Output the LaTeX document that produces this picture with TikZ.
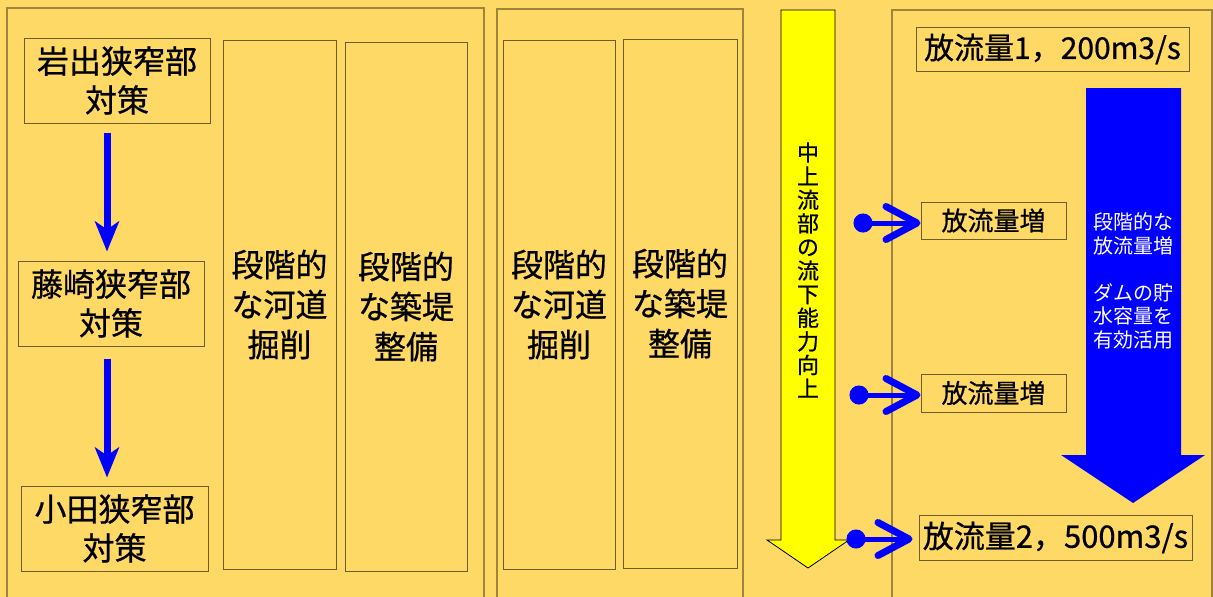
\documentclass[tikz,border=0pt]{standalone}
\usepackage{fontspec}
\newfontfamily\jp[UprightFeatures={FakeBold=0.7}]{Noto Sans CJK JP}
\newfontfamily\jpw{Noto Sans CJK JP}
\usetikzlibrary{arrows.meta}
\definecolor{bg}{RGB}{255,217,102}
\definecolor{panelc}{RGB}{160,132,60}
\definecolor{boxc}{RGB}{110,92,45}
\definecolor{yel}{RGB}{255,255,0}
\begin{document}
\begin{tikzpicture}[x=1pt,y=-1pt,
  panel/.style={draw=panelc, line width=1.5pt},
  box/.style={draw=boxc, line width=1pt, inner sep=0pt, align=center, font=\jp\fontsize{32}{39}\selectfont},
  tall/.style={box, font=\jp\fontsize{32}{40}\selectfont},
  smallbox/.style={box, font=\jp\fontsize{26}{28}\selectfont},
  larr/.style={draw=blue, line width=7pt, -{Stealth[length=30pt,width=24pt,inset=8pt]}},
  conn/.style={draw=blue, line width=5pt, {Circle[length=19pt]}-{Straight Barb[length=31pt,width=33pt,line width=7pt,round]}}
]
\useasboundingbox (0,0) rectangle (1213,597);
\fill[bg] (0,0) rectangle (1213,597);

% panels
\draw[panel] (7,597) -- (7,8) -- (484,8) -- (484,597);
\draw[panel] (497,597) -- (497,9) -- (743,9) -- (743,597);
\draw[panel] (892,597) -- (892,10) -- (1212,10) -- (1212,597);

% left column boxes
\node[box, minimum width=186pt, minimum height=85pt] (iwade) at (117,80.5) {岩出狭窄部\\対策};
\node[box, minimum width=186pt, minimum height=85pt] (fuji) at (111,303.5) {藤崎狭窄部\\対策};
\node[box, minimum width=187pt, minimum height=85pt] (oda) at (114.5,528.5) {小田狭窄部\\対策};

\coordinate (ax) at (107,0);
\draw[larr, shorten <=9pt, shorten >=9pt] (iwade.south -| ax) -- (fuji.north -| ax);
\draw[larr, shorten <=12pt, shorten >=8pt] (fuji.south -| ax) -- (oda.north -| ax);

% tall boxes
\node[tall, minimum width=113pt, minimum height=529pt] (k1) at (279.5,304.5) {段階的\\な河道\\掘削};
\node[tall, minimum width=122pt, minimum height=529pt] (t1) at (406,306.5) {段階的\\な築堤\\整備};
\node[tall, minimum width=112pt, minimum height=529pt] (k2) at (559,304.5) {段階的\\な河道\\掘削};
\node[tall, minimum width=114pt, minimum height=529pt] (t2) at (680,303.5) {段階的\\な築堤\\整備};

% yellow arrow
\draw[fill=yel, draw=black, line width=0.8pt] (781,10) -- (835,10) -- (835,540) -- (849,540) -- (808,568) -- (767,540) -- (781,540) -- cycle;
\node[align=center, inner sep=0pt, font=\jp\fontsize{22}{23.6}\selectfont] (ytext) at (808,270) {中\\上\\流\\部\\の\\流\\下\\能\\力\\向\\上};

% blue arrow
\fill[blue] (1086,88) -- (1181,88) -- (1181,455) -- (1205,455) -- (1133,503) -- (1061,455) -- (1086,455) -- cycle;
\node[align=center, inner sep=0pt, text=white, font=\jpw\fontsize{20}{23.5}\selectfont] (btext) at (1133,281) {段階的な\\放流量増\\\mbox{}\\ダムの貯\\水容量を\\有効活用};

% right boxes
\node[box, font=\jp\fontsize{30}{34}\selectfont, minimum width=273pt, minimum height=44pt] (q1) at (1052.5,49) {放流量1，200m3/s};
\node[smallbox, minimum width=145pt, minimum height=37pt] (inc1) at (993.5,220.5) {放流量増};
\node[smallbox, minimum width=145pt, minimum height=38pt] (inc2) at (993.5,393) {放流量増};
\node[box, font=\jp\fontsize{31}{34}\selectfont, minimum width=273pt, minimum height=45pt] (q2) at (1055.5,537.5) {放流量2，500m3/s};

% connectors
\coordinate (s1) at (853.5,223);
\coordinate (s2) at (849.5,395);
\coordinate (s3) at (846.5,539);
\draw[conn] (s1) -- (s1 -| inc1.west);
\draw[conn] (s2) -- (s2 -| inc2.west);
\draw[conn, shorten >=6pt] (s3) -- (s3 -| q2.west);
\end{tikzpicture}
\end{document}
